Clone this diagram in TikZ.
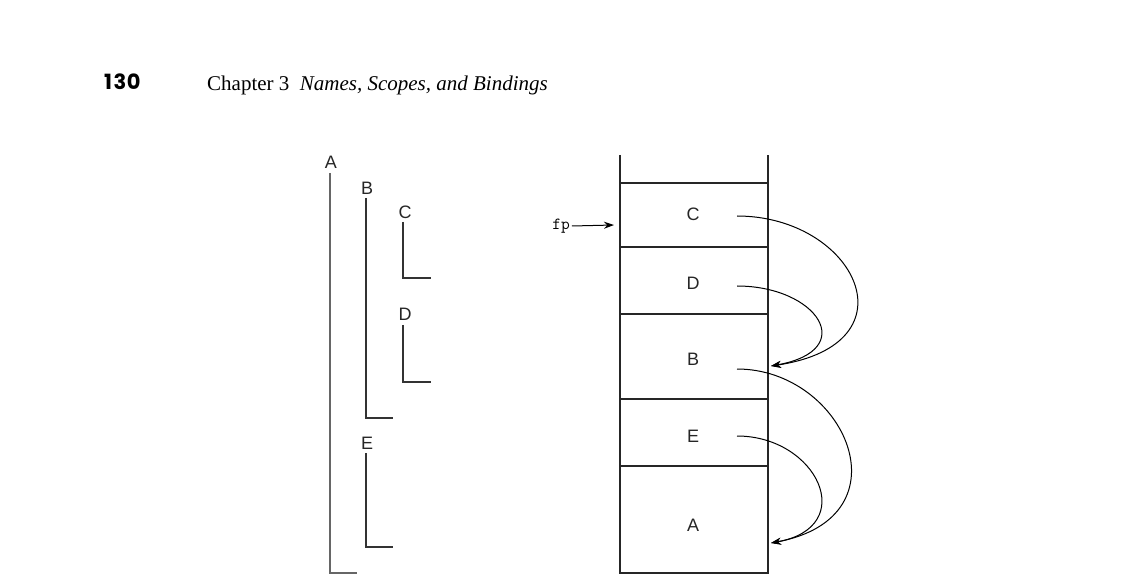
\documentclass[tikz,border=0pt]{standalone}
\usepackage{fontspec}
\setmainfont{Liberation Serif}
\setsansfont{Liberation Sans}
\newfontfamily\headfont{Poppins}
\usetikzlibrary{arrows.meta}
\begin{document}
\begin{tikzpicture}[x=1pt,y=-1pt,
  lbl/.style={font=\sffamily\fontsize{18}{18}\selectfont, text=black!85, inner sep=0pt},
  scopeline/.style={line width=1.4pt, draw=black!80},
  stackline/.style={line width=1.8pt, draw=black!85},
  link/.style={line width=1pt, draw=black, -{Stealth[length=10pt,width=7pt]}}]
\useasboundingbox (0,0) rectangle (1128,588);
% header
\node[anchor=base west, inner sep=0pt, font=\headfont\bfseries\fontsize{21}{21}\selectfont] (pg) at (104,90) {1\hspace{1.5pt}3\hspace{0.5pt}0};
\node[anchor=base west, inner sep=0pt, font=\fontsize{21}{21}\selectfont] (chap) at (207,91) {Chapter 3\enspace\textit{Names, Scopes, and Bindings}};
% left scope diagram
\node[lbl] (lA) at (331,162) {A};
\node[lbl] (lB) at (367,188) {B};
\node[lbl] (lC) at (405,212) {C};
\node[lbl] (lD) at (405,314) {D};
\node[lbl] (lE) at (367,443) {E};
\draw[scopeline, draw=black!60] (330,173) -- (330,573) -- (357,573);
\draw[scopeline] (366,198) -- (366,418) -- (393,418);
\draw[scopeline] (403,222) -- (403,278) -- (431,278);
\draw[scopeline] (403,325) -- (403,382) -- (431,382);
\draw[scopeline] (366,453) -- (366,547) -- (393,547);
% stack
\draw[stackline] (620,155) -- (620,573) -- (768,573) -- (768,155);
\foreach \yy in {183,247,314,399,466} \draw[stackline] (620,\yy) -- (768,\yy);
\node[lbl] (sC) at (693,214) {C};
\node[lbl] (sD) at (693,283) {D};
\node[lbl] (sB) at (693,359) {B};
\node[lbl] (sE) at (693,436) {E};
\node[lbl] (sA) at (693,525) {A};
% frame pointer
\node[inner sep=0pt, font=\ttfamily\fontsize{17}{17}\selectfont] (fp) at (561,226) {fp};
\coordinate (fpT) at (614,225);
\draw[line width=1pt, -{Stealth[length=10pt,width=7pt]}] (fp.east) ++(2,0) -- (fpT);
% links
\coordinate (cS) at (737,216);
\coordinate (dS) at (737,286);
\coordinate (bS) at (737,369);
\coordinate (eS) at (737,436);
\coordinate (bT) at (771,366);
\coordinate (aT) at (771,543);
\draw[link] (cS) .. controls (855,216) and (918,344) .. (bT);
\draw[link] (dS) .. controls (817,286) and (860,350) .. (bT);
\draw[link] (bS) .. controls (845,369) and (910,517) .. (aT);
\draw[link] (eS) .. controls (817,436) and (860,527) .. (aT);
\end{tikzpicture}
\end{document}
